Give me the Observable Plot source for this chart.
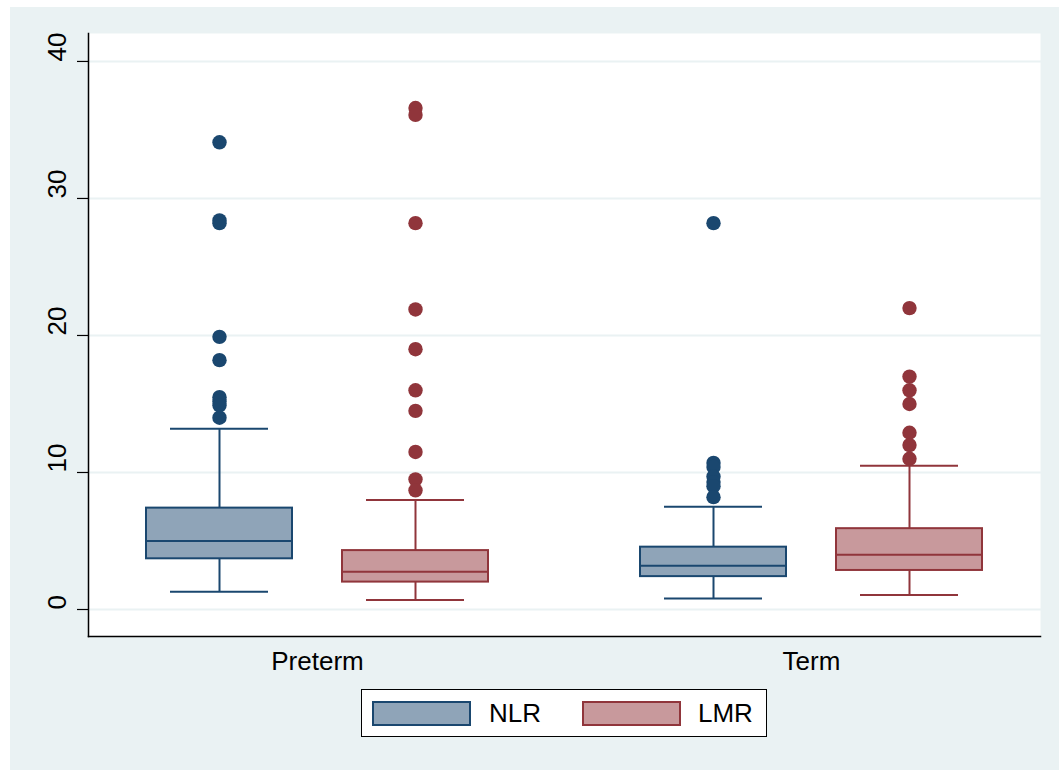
<!DOCTYPE html>
<html>
<head>
<meta charset="utf-8">
<script src="https://cdn.jsdelivr.net/npm/d3@7"></script>
<script src="https://cdn.jsdelivr.net/npm/@observablehq/plot@0.6"></script>
<style>
  html, body { margin: 0; padding: 0; background: #ffffff; }
  body { width: 1059px; height: 770px; position: relative; overflow: hidden; font-family: "Liberation Sans", Arial, sans-serif; }
  #fig { position: absolute; left: 10px; top: 7px; width: 1049px; height: 763px; background: #EAF2F3; }
  #chart { position: absolute; left: 0; top: 0; }
  #legend { position: absolute; left: 351px; top: 682px; width: 406px; height: 48px; background: #ffffff; border: 1.5px solid #000; box-sizing: border-box; }
  .sw { position: absolute; top: 11px; width: 99px; height: 25px; box-sizing: border-box; border: 2px solid; }
  .lt { position: absolute; top: 7px; font-size: 26px; line-height: 32px; color: #000; }
</style>
</head>
<body>
<div id="fig">
  <div id="chart"></div>
  <div id="legend"></div>
</div>
<script>
// ---- data ----
const groups = ["Preterm", "Term"];
const seriesNames = ["NLR", "LMR"];
const boxGroup = ["Preterm", "Preterm", "Term", "Term"];
const boxSeries = ["NLR", "LMR", "NLR", "LMR"];
const whiskerLow = [1.3, 0.7, 0.8, 1.05];
const q1 = [3.7, 2.0, 2.4, 2.85];
const median = [5.0, 2.75, 3.2, 4.0];
const q3 = [7.4, 4.3, 4.55, 5.9];
const whiskerHigh = [13.2, 8.0, 7.5, 10.5];
const outliers = [
  [34.1, 28.4, 28.2, 19.9, 18.2, 15.5, 15.2, 14.9, 14.0],
  [36.6, 36.1, 28.2, 21.9, 19.0, 16.0, 14.5, 11.5, 9.5, 8.7],
  [28.2, 10.7, 10.4, 9.7, 9.3, 9.0, 8.2],
  [22.0, 17.0, 16.0, 15.0, 12.9, 12.0, 11.0]
];
const yTicks = [0, 10, 20, 30, 40];

// ---- styles ----
const bg = "#EAF2F3";
const strokeColor = {NLR: "#1A476F", LMR: "#90353B"};
const fillColor = {NLR: "#8FA4B8", LMR: "#C8999C"};

const boxes = boxGroup.map((g, i) => ({
  group: g, series: boxSeries[i], lo: whiskerLow[i], q1: q1[i], med: median[i], q3: q3[i], hi: whiskerHigh[i]
}));
const points = boxGroup.flatMap((g, i) => outliers[i].map(v => ({group: g, series: boxSeries[i], value: v})));

const marks = [
  Plot.frame({fill: "white", stroke: "none", facet: "super", insetLeft: 18, insetRight: 18}),
  Plot.ruleY(yTicks, {y: d => d, stroke: bg, strokeWidth: 2}),
  Plot.axisY({ticks: yTicks, tickSize: 11, tickFormat: () => "", dx: 18, stroke: "#000", strokeWidth: 1.2}),
  Plot.text(yTicks, {fx: () => groups[0], y: d => d, text: d => String(d), frameAnchor: "left", rotate: -90, dx: -13, fontSize: 26, fill: "#000"}),
  Plot.axisFx({anchor: "bottom", tickSize: 0, tickPadding: 15, fontSize: 26, label: null, fill: "#000"})
];

for (const s of seriesNames) {
  const b = boxes.filter(d => d.series === s);
  const p = points.filter(d => d.series === s);
  const col = strokeColor[s];
  marks.push(
    Plot.ruleX(b, {fx: "group", x: "series", y1: "lo", y2: "q1", stroke: col, strokeWidth: 2}),
    Plot.ruleX(b, {fx: "group", x: "series", y1: "q3", y2: "hi", stroke: col, strokeWidth: 2}),
    Plot.tickY(b, {fx: "group", x: "series", y: "lo", stroke: col, strokeWidth: 2, insetLeft: 24, insetRight: 24}),
    Plot.tickY(b, {fx: "group", x: "series", y: "hi", stroke: col, strokeWidth: 2, insetLeft: 24, insetRight: 24}),
    Plot.barY(b, {fx: "group", x: "series", y1: "q1", y2: "q3", fill: fillColor[s], stroke: col, strokeWidth: 2}),
    Plot.tickY(b, {fx: "group", x: "series", y: "med", stroke: col, strokeWidth: 2}),
    Plot.dot(p, {fx: "group", x: "series", y: "value", r: 7.2, fill: col, stroke: "none"})
  );
}

marks.push(
  Plot.frame({anchor: "left", stroke: "#000", strokeWidth: 1.5, facet: "super", insetLeft: 18, insetRight: 18}),
  Plot.frame({anchor: "bottom", stroke: "#000", strokeWidth: 1.5, facet: "super", insetLeft: 18, insetRight: 18})
);

const chart = Plot.plot({
  width: 1049,
  height: 672,
  marginLeft: 60,
  marginRight: 1,
  marginTop: 26,
  marginBottom: 43,
  style: {background: "transparent", fontFamily: "'Liberation Sans', Arial, sans-serif", color: "#000"},
  fx: {domain: groups, paddingInner: 0, paddingOuter: 0, axis: null, label: null},
  x: {domain: seriesNames, paddingInner: 0.254, paddingOuter: 0.381, axis: null},
  y: {domain: [-1.97, 42.04], axis: null},
  marks
});
document.getElementById("chart").appendChild(chart);

// legend (HTML, below the SVG)
const legend = document.getElementById("legend");
const legendPos = [{sw: 10, tx: 127}, {sw: 220, tx: 336}];
seriesNames.forEach((s, i) => {
  const sw = document.createElement("div");
  sw.className = "sw";
  sw.style.left = legendPos[i].sw + "px";
  sw.style.background = fillColor[s];
  sw.style.borderColor = strokeColor[s];
  legend.appendChild(sw);
  const t = document.createElement("div");
  t.className = "lt";
  t.style.left = legendPos[i].tx + "px";
  t.textContent = s;
  legend.appendChild(t);
});
</script>
</body>
</html>
